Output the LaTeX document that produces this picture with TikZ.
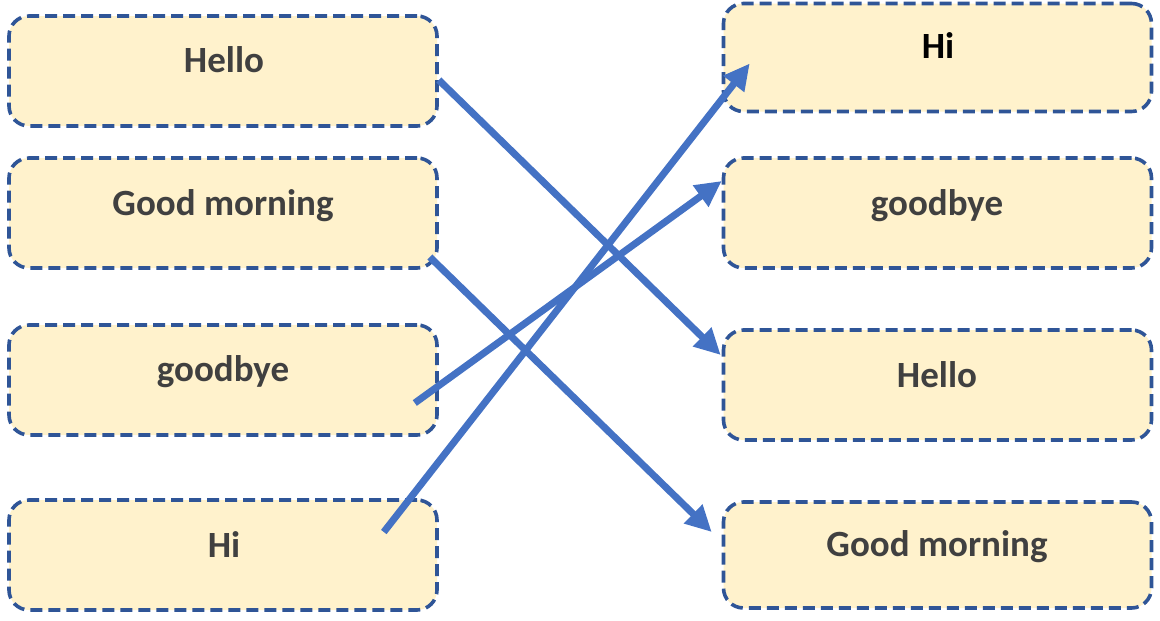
\documentclass[tikz,border=0pt]{standalone}
\usepackage{fontspec}
\setmainfont{Carlito}
\usetikzlibrary{arrows.meta,calc}
\definecolor{boxfill}{HTML}{FFF2CC}
\definecolor{boxline}{HTML}{2F5597}
\definecolor{arrowblue}{HTML}{4472C4}
\definecolor{txtgray}{HTML}{404040}
\begin{document}
\begin{tikzpicture}[x=1pt,y=-1pt,
  box/.style={draw=boxline, fill=boxfill, line width=3.6pt, dash pattern=on 12pt off 6pt,
    rounded corners=20pt, minimum width=428pt, minimum height=110pt, inner sep=0pt},
  lbl/.style={font=\fontsize{37}{44}\selectfont\bfseries, text=txtgray, text height=24pt,
    text depth=0pt, inner sep=0pt},
  conn/.style={draw=arrowblue, line width=7pt, -{Triangle[length=26pt,width=25pt]}}]
\useasboundingbox (0,0) rectangle (1160,621);
% left column
\node[box] (L1) at (223,71) {};
\node[box] (L2) at (223,213) {};
\node[box] (L3) at (223,380) {};
\node[box] (L4) at (223,555) {};
% right column
\node[box, minimum height=108pt] (R1) at (937.5,57.5) {};
\node[box] (R2) at (937.5,213) {};
\node[box] (R3) at (937.5,385) {};
\node[box, minimum height=106pt] (R4) at (937.5,555) {};
% labels
\node[lbl] (L1t) at (224,60) {Hello};
\node[lbl] (L2t) at (223,203) {Good morning};
\node[lbl] (L3t) at (223,369) {goodbye};
\node[lbl] (L4t) at (224,545) {Hi};
\node[lbl, text=black] (R1t) at (938,46) {Hi};
\node[lbl] (R2t) at (937,203) {goodbye};
\node[lbl] (R3t) at (937,375) {Hello};
\node[lbl] (R4t) at (937,544) {Good morning};
% connector ends
\coordinate (s1) at ($(L1.east)+(0,9)$);
\coordinate (e1) at ($(R3.west)+(-1,-30)$);
\coordinate (s2) at ($(L2.east)+(-9,44)$);
\coordinate (e2) at ($(R4.west)+(-10,-23)$);
\coordinate (s3) at ($(L3.east)+(-24,23)$);
\coordinate (e3) at ($(R2.west)+(0,-32)$);
\coordinate (s4) at ($(L4.east)+(-55,-23)$);
\coordinate (e4) at ($(R1.west)+(28,6)$);
% connectors
\draw[conn] (s1) -- (e1);
\draw[conn] (s2) -- (e2);
\draw[conn] (s3) -- (e3);
\draw[conn] (s4) -- (e4);
\end{tikzpicture}
\end{document}
